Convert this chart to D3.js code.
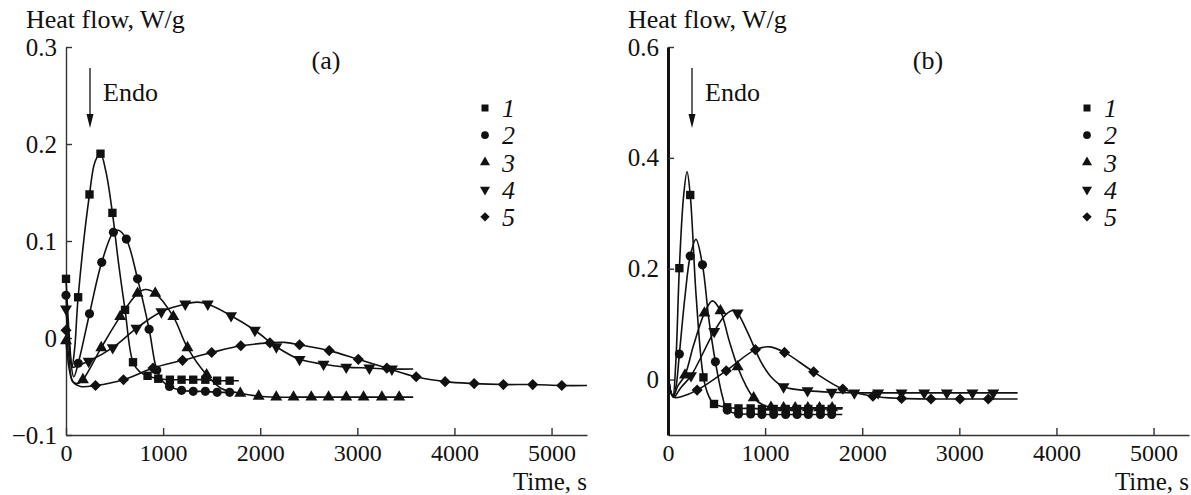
<!DOCTYPE html>
<html>
<head>
<meta charset="utf-8">
<script src="https://cdn.jsdelivr.net/npm/d3@7"></script>
<style>
body{margin:0;background:#fff}
svg text{font-family:"Liberation Serif","Times New Roman",Times,serif}
</style>
</head>
<body>
<div id="chart"></div>
<script>
// tick values
const xTicks = [0, 1000, 2000, 3000, 4000, 5000]
const yTicksA = [-0.1, 0, 0.1, 0.2, 0.3]
const yTicksB = [0, 0.2, 0.4, 0.6]
const seriesNames = ["1", "2", "3", "4", "5"]

// [time s, heat flow W/g, 1 = point has a marker]
// panel (a)
const a1 = [[0,0.061,1],[35,0.0,0],[62,-0.03,0],[90,-0.01,0],[125,0.042,1],[242,0.148,1],[300,0.182,0],[355,0.19,1],[410,0.172,0],[478,0.129,1],[540,0.078,0],[608,0.029,1],[690,-0.025,1],[760,-0.035,0],[840,-0.039,1],[950,-0.042,1],[1070,-0.043,1],[1190,-0.043,1],[1310,-0.043,1],[1435,-0.043,1],[1556,-0.044,1],[1685,-0.044,1],[1780,-0.044,0]]
const a2 = [[0,0.044,1],[40,-0.015,0],[80,-0.04,0],[126,-0.026,1],[242,0.025,1],[368,0.078,1],[488,0.109,1],[540,0.111,0],[621,0.102,1],[737,0.061,1],[856,0.009,1],[935,-0.033,1],[1000,-0.045,0],[1066,-0.05,1],[1190,-0.054,1],[1310,-0.055,1],[1435,-0.055,1],[1556,-0.056,1],[1685,-0.056,1],[1720,-0.056,0]]
const a3 = [[0,-0.003,1],[30,-0.03,0],[70,-0.045,0],[120,-0.047,0],[174,-0.043,1],[363,-0.01,1],[558,0.022,1],[737,0.046,1],[820,0.05,0],[919,0.046,1],[1105,0.022,1],[1251,-0.01,1],[1448,-0.038,1],[1600,-0.052,0],[1795,-0.057,1],[1984,-0.06,1],[2165,-0.061,1],[2343,-0.061,1],[2526,-0.061,1],[2704,-0.061,1],[2886,-0.061,1],[3064,-0.061,1],[3253,-0.061,1],[3431,-0.061,1],[3575,-0.061,0]]
const a4 = [[0,0.03,1],[30,-0.005,0],[70,-0.03,0],[130,-0.028,0],[233,-0.024,1],[481,-0.01,1],[725,0.01,1],[982,0.027,1],[1228,0.035,1],[1350,0.037,0],[1460,0.035,1],[1700,0.023,1],[1945,0.008,1],[2166,-0.009,1],[2405,-0.022,1],[2652,-0.027,1],[2886,-0.03,1],[3124,-0.031,1],[3356,-0.032,1],[3575,-0.032,0]]
const a5 = [[0,0.008,1],[30,-0.02,0],[70,-0.045,0],[150,-0.05,0],[304,-0.049,1],[592,-0.043,1],[896,-0.031,1],[1200,-0.023,1],[1500,-0.015,1],[1800,-0.008,1],[2100,-0.005,1],[2250,-0.0045,0],[2405,-0.007,1],[2710,-0.013,1],[3010,-0.022,1],[3304,-0.031,1],[3606,-0.04,1],[3904,-0.045,1],[4203,-0.047,1],[4504,-0.048,1],[4806,-0.048,1],[5105,-0.049,1],[5365,-0.049,0]]

// panel (b)
const b1 = [[0,0.03,0],[25,-0.02,0],[50,-0.03,0],[80,0.03,0],[117,0.201,1],[160,0.33,0],[196,0.375,0],[229,0.333,1],[290,0.15,0],[365,0.004,1],[420,-0.03,0],[474,-0.044,1],[610,-0.05,1],[726,-0.052,1],[851,-0.052,1],[967,-0.053,1],[1088,-0.053,1],[1212,-0.053,1],[1329,-0.053,1],[1445,-0.053,1],[1570,-0.053,1],[1686,-0.053,1],[1795,-0.053,0]]
const b2 = [[0,0.03,0],[25,-0.02,0],[55,-0.03,0],[85,-0.01,0],[117,0.046,1],[175,0.15,0],[229,0.223,1],[288,0.253,0],[355,0.207,1],[420,0.11,0],[488,0.032,1],[560,-0.03,0],[610,-0.055,1],[726,-0.062,1],[851,-0.062,1],[967,-0.063,1],[1088,-0.063,1],[1212,-0.063,1],[1329,-0.063,1],[1445,-0.063,1],[1570,-0.063,1],[1686,-0.063,1],[1795,-0.063,0]]
const b3 = [[0,0.03,0],[25,-0.02,0],[55,-0.03,0],[100,-0.012,0],[175,0.008,1],[260,0.06,0],[375,0.12,1],[458,0.142,0],[540,0.124,1],[630,0.07,0],[717,0.023,1],[800,-0.01,0],[882,-0.033,1],[980,-0.046,0],[1060,-0.05,1],[1190,-0.051,1],[1310,-0.051,1],[1440,-0.051,1],[1560,-0.051,1],[1690,-0.051,1],[1800,-0.051,0]]
const b4 = [[0,0.03,0],[25,-0.02,0],[60,-0.032,0],[130,-0.015,0],[237,0.007,1],[476,0.087,1],[600,0.118,0],[680,0.125,0],[717,0.12,1],[820,0.085,0],[957,0.032,0],[1060,0.005,0],[1190,-0.013,1],[1437,-0.02,1],[1686,-0.023,1],[1919,-0.024,1],[2164,-0.024,1],[2405,-0.024,1],[2638,-0.024,1],[2871,-0.024,1],[3135,-0.024,1],[3349,-0.024,1],[3600,-0.024,0]]
const b5 = [[0,0.03,0],[25,-0.02,0],[60,-0.032,0],[150,-0.03,0],[300,-0.019,1],[600,0.016,1],[900,0.054,1],[1050,0.059,0],[1200,0.049,1],[1500,0.014,1],[1800,-0.017,1],[2110,-0.03,1],[2405,-0.034,1],[2708,-0.035,1],[3007,-0.035,1],[3298,-0.035,1],[3600,-0.035,0]]

const width = 1191, height = 495
const font = "Liberation Serif"
const ink = "#111"

const svg = d3.select("#chart").append("svg")
    .attr("width", width)
    .attr("height", height)
    .attr("font-family", font)

// marker shapes: square, circle, triangle up, triangle down, diamond
const shapes = [
    { type: d3.symbolSquare, rot: 0, size: 70 },
    { type: d3.symbolCircle, rot: 0, size: 66 },
    { type: d3.symbolTriangle, rot: 0, size: 62 },
    { type: d3.symbolTriangle, rot: 180, size: 62 },
    { type: d3.symbolSquare, rot: 45, size: 62 }
]

function tickText(d) {
    if (d === 0) return "0"
    return d < 0 ? "\u2212" + Math.abs(d) : String(d)
}

function drawPanel(x0, yDomain, yTicks, series, tag, yAxisWidth) {
    const g = svg.append("g")

    const x = d3.scaleLinear().domain([0, 5365]).range([x0, x0 + 521])
    const y = d3.scaleLinear().domain(yDomain).range([435, 47])

    // axes, ticks pointing inward
    const xAxis = g.append("g")
        .attr("transform", "translate(0,435)")
        .call(d3.axisBottom(x).tickValues(xTicks).tickSize(-7).tickSizeOuter(0).tickPadding(9).tickFormat(d3.format("d")))
        .attr("font-family", font)
        .attr("font-size", 24)
    xAxis.selectAll("line, path").attr("stroke", "#333").attr("stroke-width", 1.4)
    xAxis.selectAll("text").attr("fill", ink)

    const yAxis = g.append("g")
        .attr("transform", `translate(${x0},0)`)
        .call(d3.axisLeft(y).tickValues(yTicks).tickSize(-6).tickSizeOuter(0).tickPadding(9).tickFormat(tickText))
        .attr("font-family", font)
        .attr("font-size", 25)
    yAxis.selectAll("line").attr("stroke", "#333").attr("stroke-width", 1.4)
    yAxis.select(".domain").attr("stroke", yAxisWidth > 2 ? ink : "#333").attr("stroke-width", yAxisWidth)
    yAxis.selectAll("text").attr("fill", ink)

    // curves
    const line = d3.line()
        .x(d => x(d[0]))
        .y(d => y(d[1]))
        .curve(d3.curveCatmullRom.alpha(0.5))

    series.forEach(s => {
        g.append("path")
            .datum(s)
            .attr("d", line)
            .attr("fill", "none")
            .attr("stroke", ink)
            .attr("stroke-width", 1.6)
    })

    series.forEach((s, i) => {
        const sh = shapes[i]
        g.selectAll(null)
            .data(s.filter(d => d[2]))
            .join("path")
            .attr("d", d3.symbol().type(sh.type).size(sh.size))
            .attr("transform", d => `translate(${x(d[0])},${y(d[1])}) rotate(${sh.rot})`)
            .attr("fill", ink)
    })

    // legend
    const leg = g.append("g").attr("transform", `translate(${x0 + 419},108)`)
    seriesNames.forEach((name, i) => {
        const sh = shapes[i]
        leg.append("path")
            .attr("d", d3.symbol().type(sh.type).size(sh.size * 0.7))
            .attr("transform", `translate(0,${i * 27.2}) rotate(${sh.rot})`)
            .attr("fill", ink)
        leg.append("text")
            .attr("x", 17)
            .attr("y", i * 27.2)
            .attr("dy", "0.35em")
            .attr("font-size", 26)
            .attr("font-style", "italic")
            .attr("fill", ink)
            .text(name)
    })

    // Endo arrow
    const ax = x0 + 24
    g.append("line")
        .attr("x1", ax).attr("x2", ax)
        .attr("y1", 68).attr("y2", 116)
        .attr("stroke", ink).attr("stroke-width", 1.3)
    g.append("path")
        .attr("d", `M${ax - 3.5},114 L${ax + 3.5},114 L${ax},128 Z`)
        .attr("fill", ink)
    g.append("text")
        .attr("x", x0 + 37).attr("y", 101)
        .attr("font-size", 26).attr("fill", ink)
        .text("Endo")

    // titles
    g.append("text")
        .attr("x", x0 - 40).attr("y", 28)
        .attr("font-size", 26).attr("fill", ink)
        .text("Heat flow, W/g")
    g.append("text")
        .attr("x", x0 + 260).attr("y", 69)
        .attr("text-anchor", "middle")
        .attr("font-size", 26).attr("fill", ink)
        .text(tag)
    g.append("text")
        .attr("x", x0 + 521).attr("y", 490)
        .attr("text-anchor", "end")
        .attr("font-size", 25).attr("fill", ink)
        .text("Time, s")
}

drawPanel(66, [-0.1, 0.3], yTicksA, [a1, a2, a3, a4, a5], "(a)", 1.4)
drawPanel(668, [-0.1, 0.6], yTicksB, [b1, b2, b3, b4, b5], "(b)", 3)
</script>
</body>
</html>
